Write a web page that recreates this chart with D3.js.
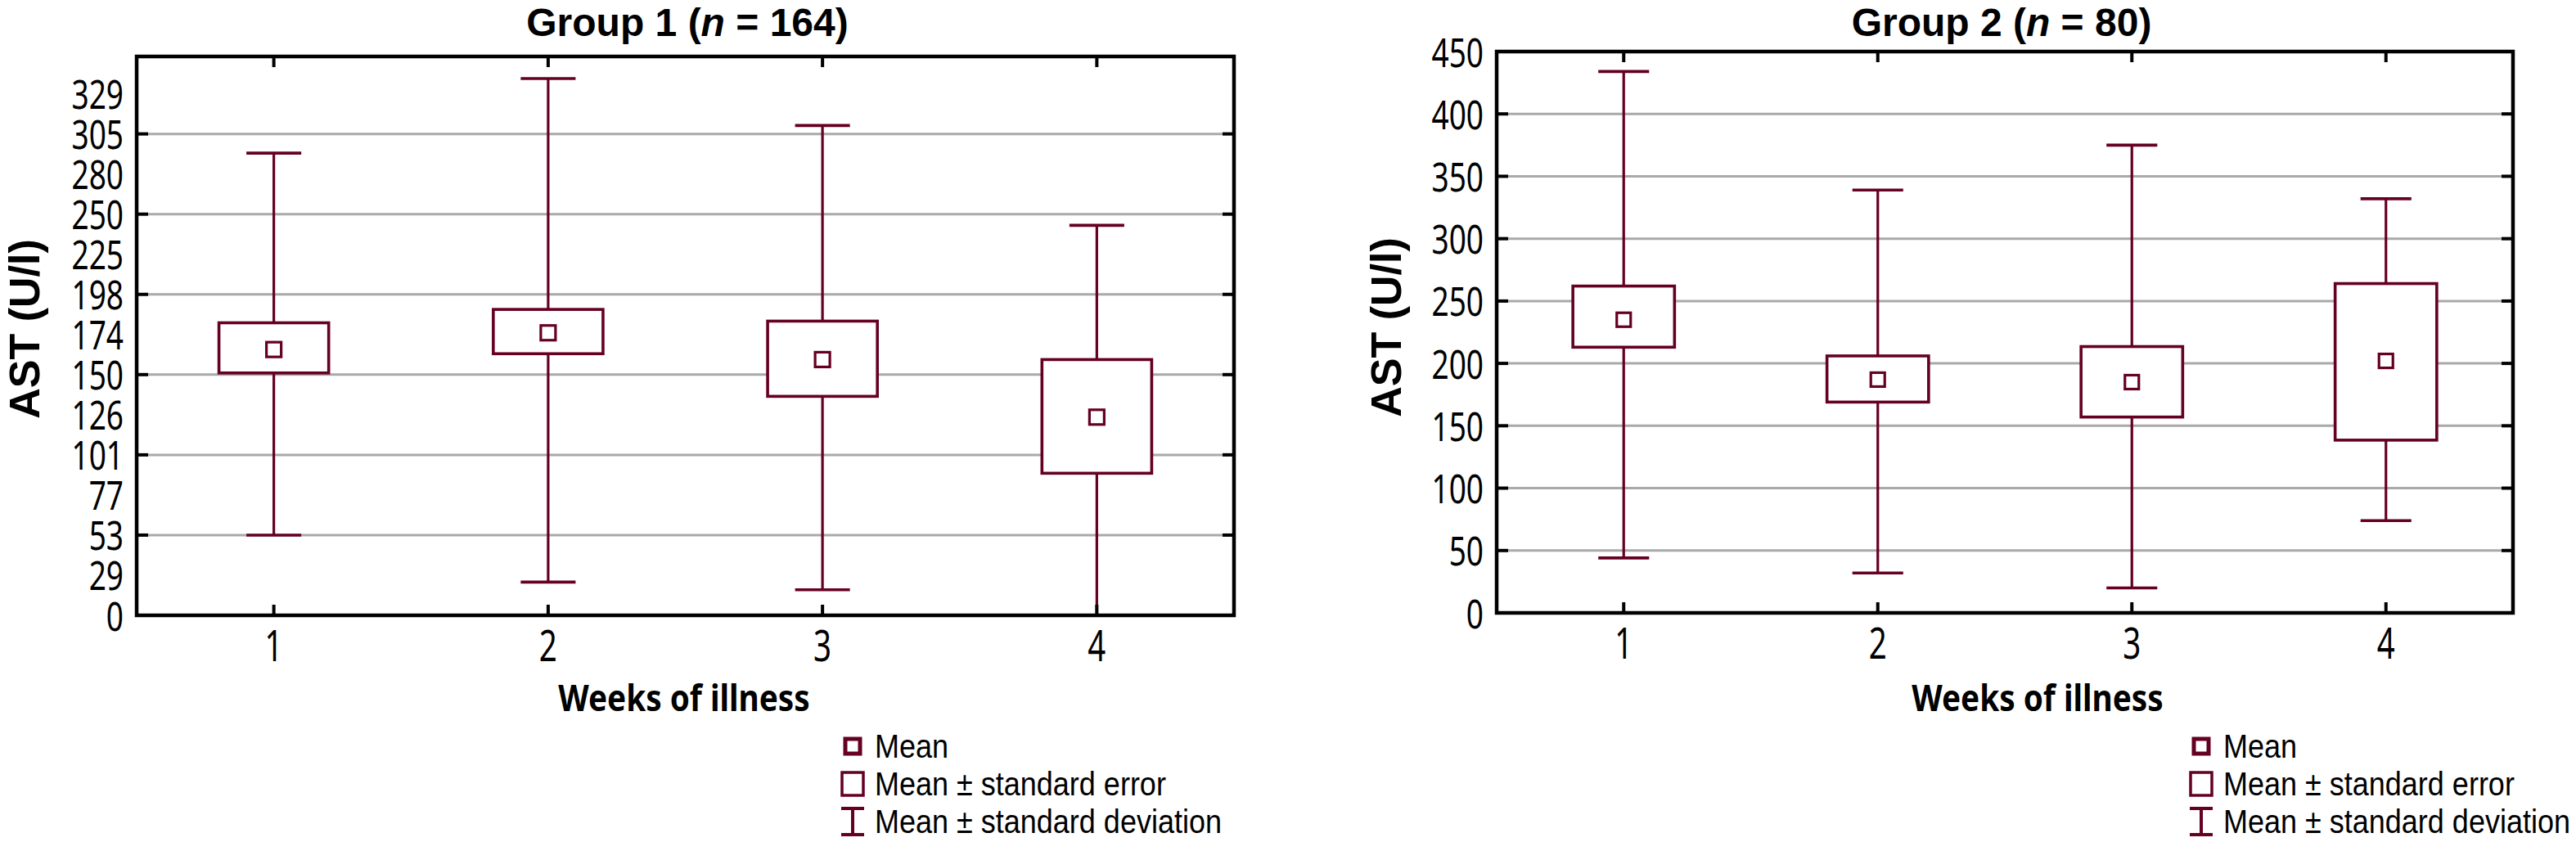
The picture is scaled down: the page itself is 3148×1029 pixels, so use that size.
<!DOCTYPE html>
<html>
<head>
<meta charset="utf-8">
<script src="https://cdn.jsdelivr.net/npm/d3@7"></script>
<style>
  html, body { margin: 0; padding: 0; background: #fff; }
  svg { display: block; }
  text { font-family: "Noto Sans", "Open Sans", "DejaVu Sans", sans-serif; fill: #000; }
</style>
</head>
<body>
<svg id="chart" width="3148" height="1029"></svg>
<script>
// ---------------- DATA ----------------
const categories = ["1", "2", "3", "4"];
const xTitle = "Weeks of illness";
const yTitle = "AST (U/l)";
const legendLabels = ["Mean", "Mean \u00B1 standard error", "Mean \u00B1 standard deviation"];

// Group 1 (n = 164)
const g1Title = { pre: "Group 1 (", n: "n", post: " = 164)" };
const g1Mean   = [165, 175, 159, 124.5];
const g1SeLow  = [151, 162.5, 137, 90];
const g1SeHigh = [181, 189, 182, 159];
const g1SdLow  = [53, 24, 18.5, 0];
const g1SdHigh = [293, 338, 310, 243];
const g1Ticks  = [0, 29, 53, 77, 101, 126, 150, 174, 198, 225, 250, 280, 305, 329];
const g1Grid   = [53, 101, 150, 198, 250, 305];
const g1AxisTop = 351;

// Group 2 (n = 80)
const g2Title = { pre: "Group 2 (", n: "n", post: " = 80)" };
const g2Mean   = [235, 187, 185, 202];
const g2SeLow  = [213, 169, 157, 138.5];
const g2SeHigh = [262, 206, 213.5, 264];
const g2SdLow  = [44, 32, 20, 74];
const g2SdHigh = [434, 339, 375, 332];
const g2Ticks  = [0, 50, 100, 150, 200, 250, 300, 350, 400, 450];
const g2Grid   = [50, 100, 150, 200, 250, 300, 350, 400];

// ---------------- STYLE ----------------
const MAROON = "#650022";
const GRID = "#a9a9a9";
const LIB = '"Liberation Sans", Arial, sans-serif';
const svg = d3.select("#chart");

// horizontally condense text (reference uses a condensed face)
function squeeze(sel, s) {
  sel.each(function () {
    const t = d3.select(this);
    const x = +t.attr("x") || 0, y = +t.attr("y") || 0;
    t.attr("x", 0).attr("y", 0).attr("transform", `translate(${x},${y}) scale(${s},1)`);
  });
}

function drawPanel(p) {
  const g = svg.append("g");
  const x = d3.scaleBand().domain(categories).range([p.left, p.right]).paddingInner(0).paddingOuter(0);
  const cx = d => x(d) + x.bandwidth() / 2;
  const y = p.yScale;
  const boxW = x.bandwidth() * 0.4;
  const capW = x.bandwidth() * 0.2;
  const ms = p.meanSize;

  // gridlines
  g.append("g").selectAll("line").data(p.grid).join("line")
    .attr("x1", p.left).attr("x2", p.right)
    .attr("y1", d => y(d)).attr("y2", d => y(d))
    .attr("stroke", GRID).attr("stroke-width", 3);

  const rows = categories.map((c, i) => ({
    c, mean: p.mean[i], seLo: p.seLow[i], seHi: p.seHigh[i], sdLo: p.sdLow[i], sdHi: p.sdHigh[i]
  }));

  const marks = g.append("g");
  marks.selectAll(".wl").data(rows).join("line")
    .attr("x1", d => cx(d.c)).attr("x2", d => cx(d.c))
    .attr("y1", d => y(d.sdHi)).attr("y2", d => y(d.sdLo))
    .attr("stroke", MAROON).attr("stroke-width", 3.2);
  ["sdHi", "sdLo"].forEach(k => {
    marks.selectAll(".cap" + k).data(rows).join("line")
      .attr("x1", d => cx(d.c) - capW / 2).attr("x2", d => cx(d.c) + capW / 2)
      .attr("y1", d => y(d[k])).attr("y2", d => y(d[k]))
      .attr("stroke", MAROON).attr("stroke-width", 3.6);
  });
  marks.selectAll(".box").data(rows).join("rect")
    .attr("x", d => cx(d.c) - boxW / 2).attr("width", boxW)
    .attr("y", d => y(d.seHi)).attr("height", d => y(d.seLo) - y(d.seHi))
    .attr("fill", "#fff").attr("stroke", MAROON).attr("stroke-width", 3.6);
  marks.selectAll(".mean").data(rows).join("rect")
    .attr("x", d => cx(d.c) - ms / 2).attr("width", ms)
    .attr("y", d => y(d.mean) - ms / 2).attr("height", ms)
    .attr("fill", "#fff").attr("stroke", MAROON).attr("stroke-width", 3.2);

  // inward ticks
  g.append("g").selectAll("line").data(p.grid).join("line")
    .attr("x1", p.left).attr("x2", p.left + 14)
    .attr("y1", d => y(d)).attr("y2", d => y(d))
    .attr("stroke", "#000").attr("stroke-width", 4);
  g.append("g").selectAll("line").data(p.grid).join("line")
    .attr("x1", p.right - 14).attr("x2", p.right)
    .attr("y1", d => y(d)).attr("y2", d => y(d))
    .attr("stroke", "#000").attr("stroke-width", 4);
  g.append("g").selectAll("line").data(categories).join("line")
    .attr("x1", d => cx(d)).attr("x2", d => cx(d))
    .attr("y1", p.bottom).attr("y2", p.bottom - 13)
    .attr("stroke", "#000").attr("stroke-width", 4);
  g.append("g").selectAll("line").data(categories).join("line")
    .attr("x1", d => cx(d)).attr("x2", d => cx(d))
    .attr("y1", p.top).attr("y2", p.top + 13)
    .attr("stroke", "#000").attr("stroke-width", 4);

  // frame
  g.append("rect").attr("x", p.left).attr("y", p.top)
    .attr("width", p.right - p.left).attr("height", p.bottom - p.top)
    .attr("fill", "none").attr("stroke", "#000").attr("stroke-width", 4.5);

  // y axis labels
  const ya = g.append("g").attr("transform", `translate(${p.left},0)`)
    .call(d3.axisLeft(y).tickValues(p.ticks).tickSize(0).tickPadding(16).tickFormat(d3.format("d")));
  ya.select(".domain").remove();
  ya.selectAll("text").attr("font-size", 50).attr("fill", "#000").attr("dy", "0.36em");
  squeeze(ya.selectAll("text"), 0.74);

  // x axis labels
  const xa = g.append("g").attr("transform", `translate(0,${p.bottom})`)
    .call(d3.axisBottom(x).tickSize(0).tickPadding(19));
  xa.select(".domain").remove();
  xa.selectAll("text").attr("font-size", 52).attr("fill", "#000");
  squeeze(xa.selectAll("text"), 0.74);

  // title
  const t = g.append("text").attr("x", p.titleX).attr("y", 44)
    .attr("text-anchor", "middle").attr("font-size", 48).attr("font-weight", "bold")
    .style("font-family", LIB);
  t.append("tspan").text(p.title.pre);
  t.append("tspan").attr("font-style", "italic").text(p.title.n);
  t.append("tspan").text(p.title.post);
  squeeze(t, 1.0);

  // x title
  const xt = g.append("text").attr("x", p.xTitleX).attr("y", 869)
    .attr("text-anchor", "middle").attr("font-size", 44).attr("font-weight", "bold")
    .text(xTitle);
  squeeze(xt, 0.88);

  // y title
  g.append("text").attr("transform", `translate(${p.yTitleX},${p.yTitleY}) rotate(-90)`)
    .attr("text-anchor", "middle").attr("font-size", 52).attr("font-weight", "bold")
    .style("font-family", LIB)
    .text(yTitle);

  // legend
  const lg = g.append("g").attr("transform", `translate(${p.legendX},0)`);
  const rowsY = [912, 958, 1004];
  lg.append("rect").attr("x", -9).attr("y", rowsY[0] - 9).attr("width", 18).attr("height", 18)
    .attr("fill", "#fff").attr("stroke", MAROON).attr("stroke-width", 5);
  lg.append("rect").attr("x", -13).attr("y", rowsY[1] - 14).attr("width", 26).attr("height", 28)
    .attr("fill", "#fff").attr("stroke", MAROON).attr("stroke-width", 3.5);
  lg.append("line").attr("x1", -14).attr("x2", 14).attr("y1", rowsY[2] - 16).attr("y2", rowsY[2] - 16)
    .attr("stroke", MAROON).attr("stroke-width", 4);
  lg.append("line").attr("x1", -14).attr("x2", 14).attr("y1", rowsY[2] + 16).attr("y2", rowsY[2] + 16)
    .attr("stroke", MAROON).attr("stroke-width", 4);
  lg.append("line").attr("x1", 0).attr("x2", 0).attr("y1", rowsY[2] - 16).attr("y2", rowsY[2] + 16)
    .attr("stroke", MAROON).attr("stroke-width", 4);
  const lt = lg.selectAll("text.lt").data(legendLabels).join("text")
    .attr("class", "lt")
    .attr("x", 27).attr("y", (d, i) => rowsY[i]).attr("dy", "0.34em")
    .attr("font-size", 40).style("font-family", LIB).text(d => d);
  squeeze(lt, 0.9);
}

// ---------------- PANEL 1 ----------------
const p1 = { left: 167, right: 1508, top: 69, bottom: 752 };
const g1Steps = 13.93;
const g1Step = (p1.bottom - p1.top) / g1Steps;
const y1 = d3.scaleLinear()
  .domain([...g1Ticks, g1AxisTop])
  .range([...g1Ticks.map((d, i) => p1.bottom - i * g1Step), p1.top]);

drawPanel(Object.assign(p1, {
  yScale: y1, ticks: g1Ticks, grid: g1Grid,
  mean: g1Mean, seLow: g1SeLow, seHigh: g1SeHigh, sdLow: g1SdLow, sdHigh: g1SdHigh,
  meanSize: 18, title: g1Title, titleX: 840, xTitleX: 836,
  yTitleX: 48, yTitleY: 402, legendX: 1042
}));

// ---------------- PANEL 2 ----------------
const p2 = { left: 1829, right: 3071, top: 63, bottom: 749 };
const y2 = d3.scaleLinear().domain([0, 450]).range([p2.bottom, p2.top]);
drawPanel(Object.assign(p2, {
  yScale: y2, ticks: g2Ticks, grid: g2Grid,
  mean: g2Mean, seLow: g2SeLow, seHigh: g2SeHigh, sdLow: g2SdLow, sdHigh: g2SdHigh,
  meanSize: 17, title: g2Title, titleX: 2446, xTitleX: 2490,
  yTitleX: 1712, yTitleY: 400, legendX: 2690
}));
</script>
</body>
</html>
